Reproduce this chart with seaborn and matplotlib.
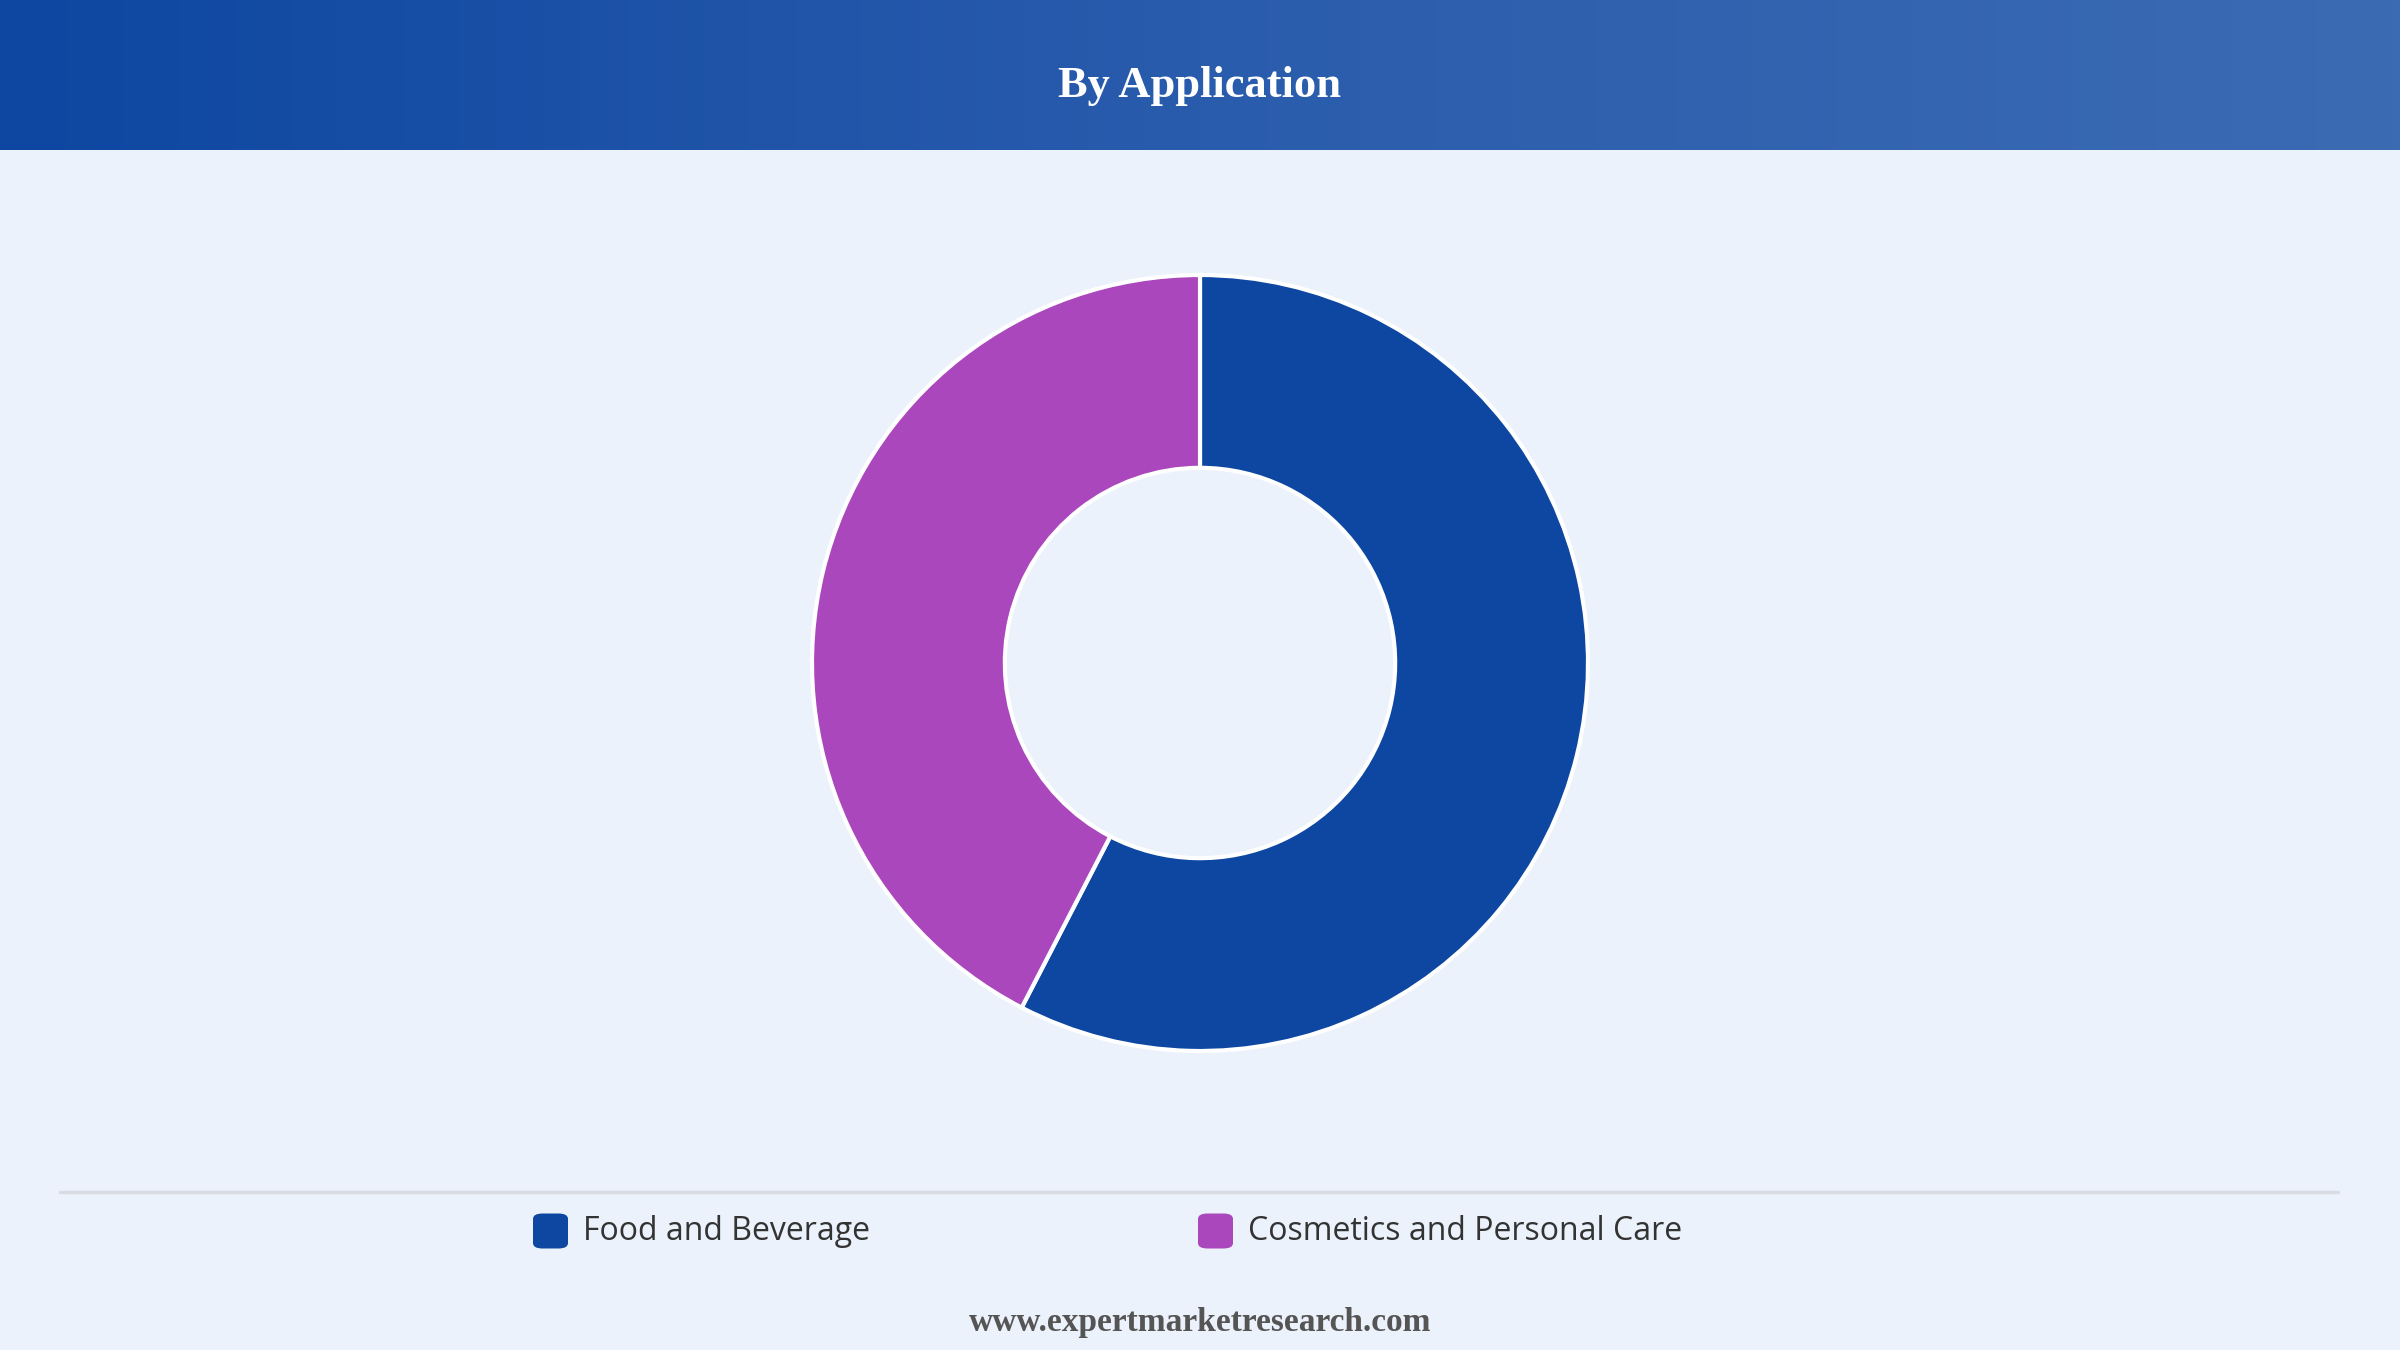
import numpy as np
import matplotlib
matplotlib.use('Agg')
import matplotlib.pyplot as plt
import seaborn as sns
from matplotlib.patches import FancyBboxPatch
from matplotlib.colors import LinearSegmentedColormap

# data
categories = ["Food and Beverage", "Cosmetics and Personal Care"]
shares = [57.6, 42.4]
colors = ["#0D47A1", "#AB47BC"]
title = "By Application"
footer = "www.expertmarketresearch.com"

BG = "#EBF2FB"
W, H = 2400, 1350

sns.set_theme(style="white")
plt.rcParams['font.family'] = ['Open Sans', 'DejaVu Sans']

fig = plt.figure(figsize=(24, 13.5), dpi=100, facecolor=BG)

# header band with gradient
hh = 150
hax = fig.add_axes([0, 1 - hh / H, 1, hh / H])
grad = np.linspace(0, 1, 512).reshape(1, -1)
cmap = LinearSegmentedColormap.from_list("hdr", ["#0D47A1", "#2A5CAD", "#3B6BB3"])
hax.imshow(grad, aspect="auto", cmap=cmap, extent=[0, 1, 0, 1])
hax.set_axis_off()
hax.text(0.5, 0.43, title, ha="center", va="center", color="white",
         fontsize=32, fontweight="bold", family="Liberation Serif")

# donut
cx, cy, r = 1200, 663, 388
box = 410
ax = fig.add_axes([(cx - box) / W, (H - cy - box) / H, 2 * box / W, 2 * box / H])
ax.set_facecolor(BG)
ax.pie(shares, colors=colors, startangle=90, counterclock=False, radius=1,
       wedgeprops=dict(width=0.497, edgecolor="white", linewidth=3))
lim = box / r
ax.set_xlim(-lim, lim)
ax.set_ylim(-lim, lim)
ax.set_aspect("equal")
ax.set_axis_off()

# separator line
fig.add_artist(plt.Line2D([60 / W, 2338 / W], [1 - 1192 / H, 1 - 1192 / H],
                          color="#D8DCE2", linewidth=2.5))

# legend
leg_x = [533, 1198]
leg_y = 1231
sq = 35
for x0, lab, col in zip(leg_x, categories, colors):
    fig.add_artist(FancyBboxPatch(((x0) / W, (H - leg_y - sq / 2) / H), sq / W, sq / H,
                                  boxstyle="round,pad=0,rounding_size=0.004",
                                  facecolor=col, edgecolor="none",
                                  transform=fig.transFigure))
    fig.text((x0 + sq + 15) / W, 1 - leg_y / H, lab, ha="left", va="center",
             fontsize=23, color="#333333", fontweight="medium")

fig.text(0.5, 1 - 1322 / H, footer, ha="center", va="center",
         fontsize=24, fontweight="bold", color="#555555", family="Liberation Serif")

fig.savefig("out.png", dpi=100, facecolor=BG)
